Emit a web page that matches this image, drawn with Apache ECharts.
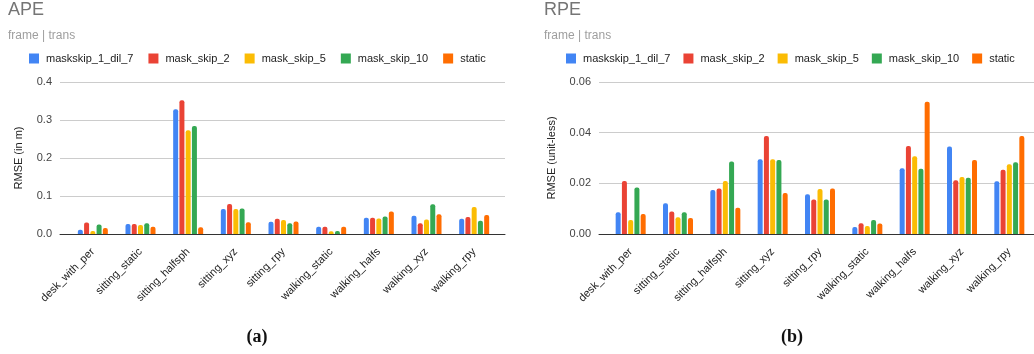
<!DOCTYPE html>
<html>
<head>
<meta charset="utf-8">
<script src="https://cdn.jsdelivr.net/npm/echarts@6/dist/echarts.min.js"></script>
<style>
  html, body { margin: 0; padding: 0; background: #fff; }
  #chart { width: 1034px; height: 354px; }
</style>
</head>
<body>
<div id="chart"></div>
<script>
// Sequences evaluated
const categories = ['desk_with_per', 'sitting_static', 'sitting_halfsph', 'sitting_xyz',
  'sitting_rpy', 'walking_static', 'walking_halfs', 'walking_xyz', 'walking_rpy'];

const seriesNames = ['maskskip_1_dil_7', 'mask_skip_2', 'mask_skip_5', 'mask_skip_10', 'static'];
const seriesColors = ['#4285F4', '#EA4335', '#FBBC04', '#34A853', '#FF6D01'];

// APE, translational RMSE in metres
const apeMaskskip1Dil7 = [0.011, 0.026, 0.328, 0.066, 0.032, 0.019, 0.043, 0.048, 0.040];
const apeMaskSkip2     = [0.030, 0.026, 0.352, 0.079, 0.040, 0.019, 0.043, 0.028, 0.045];
const apeMaskSkip5     = [0.008, 0.024, 0.273, 0.066, 0.037, 0.007, 0.041, 0.038, 0.071];
const apeMaskSkip10    = [0.025, 0.028, 0.284, 0.067, 0.028, 0.008, 0.046, 0.078, 0.035];
const apeStatic        = [0.016, 0.019, 0.018, 0.031, 0.033, 0.019, 0.059, 0.052, 0.050];

// RPE, translational RMSE (unit-less)
const rpeMaskskip1Dil7 = [0.0086, 0.0121, 0.0174, 0.0295, 0.0157, 0.0028, 0.0260, 0.0345, 0.0208];
const rpeMaskSkip2     = [0.0209, 0.0089, 0.0180, 0.0387, 0.0136, 0.0042, 0.0347, 0.0212, 0.0254];
const rpeMaskSkip5     = [0.0055, 0.0066, 0.0209, 0.0295, 0.0178, 0.0032, 0.0307, 0.0225, 0.0275];
const rpeMaskSkip10    = [0.0184, 0.0086, 0.0286, 0.0292, 0.0136, 0.0055, 0.0258, 0.0222, 0.0283];
const rpeStatic        = [0.0079, 0.0063, 0.0104, 0.0162, 0.0180, 0.0041, 0.0522, 0.0292, 0.0387];

// Y-axis tick values
const apeTicks = [0.0, 0.1, 0.2, 0.3, 0.4];
const rpeTicks = [0.00, 0.02, 0.04, 0.06];

const apeData = [apeMaskskip1Dil7, apeMaskSkip2, apeMaskSkip5, apeMaskSkip10, apeStatic];
const rpeData = [rpeMaskskip1Dil7, rpeMaskSkip2, rpeMaskSkip5, rpeMaskSkip10, rpeStatic];

const FONT = '"Liberation Sans", Arial, sans-serif';
const SERIF = '"Liberation Serif", "DejaVu Serif", serif';

// Each panel has a frame grid (gridlines, y labels, baseline) and an inset
// grid holding the category bands, so the baseline runs past the outer bars.
const PANELS = [
  { frame: { left: 60, top: 82, width: 445, height: 152 },
    inner: { left: 69, top: 82, width: 429, height: 152 },
    ticks: apeTicks, digits: 1, name: 'RMSE (in m)', nameGap: 36, data: apeData },
  { frame: { left: 599, top: 82, width: 435, height: 152 },
    inner: { left: 607, top: 82, width: 426, height: 152 },
    ticks: rpeTicks, digits: 2, name: 'RMSE (unit-less)', nameGap: 42, data: rpeData }
];

const grids = [], xAxes = [], yAxes = [], series = [];
PANELS.forEach((p, k) => {
  const fi = k * 2, ii = k * 2 + 1;
  const min = p.ticks[0], max = p.ticks[p.ticks.length - 1];
  const interval = p.ticks[1] - p.ticks[0];
  grids.push(p.frame, p.inner);

  xAxes.push({
    type: 'value', gridIndex: fi, min: 0, max: 1,
    axisLine: { show: true, lineStyle: { color: '#333', width: 1 } },
    axisTick: { show: false }, axisLabel: { show: false }, splitLine: { show: false }
  });
  xAxes.push({
    type: 'category', gridIndex: ii, data: categories,
    axisLine: { show: false }, axisTick: { show: false },
    axisLabel: { rotate: 45, fontSize: 11, color: '#222', fontFamily: FONT, margin: 16, interval: 0 }
  });

  yAxes.push({
    type: 'value', gridIndex: fi, min, max, interval,
    name: p.name, nameLocation: 'middle', nameGap: p.nameGap,
    nameTextStyle: { fontSize: 11, color: '#222', fontFamily: FONT },
    axisLine: { show: false }, axisTick: { show: false },
    axisLabel: { fontSize: 11, color: '#444', fontFamily: FONT, margin: 8,
      formatter: v => v.toFixed(p.digits) },
    splitLine: { lineStyle: { color: '#ccc', width: 1 } }
  });
  yAxes.push({ type: 'value', gridIndex: ii, min, max, interval, show: false });

  p.data.forEach((vals, i) => {
    series.push({
      name: seriesNames[i], type: 'bar', xAxisIndex: ii, yAxisIndex: ii,
      data: vals, barWidth: 5, barGap: '25%',
      itemStyle: { color: seriesColors[i], borderRadius: [2, 2, 0, 0] }
    });
  });
});

function legendAt(left, gap) {
  return {
    left, top: 48, width: 480, itemWidth: 10, itemHeight: 10, itemGap: gap,
    icon: 'rect', data: seriesNames,
    textStyle: { fontSize: 11, color: '#222', fontFamily: FONT, padding: [0, 0, 0, 2] }
  };
}

function titleAt(text, left) {
  return {
    text, subtext: 'frame | trans', left, top: 0, itemGap: 11, padding: [1, 5, 5, 5],
    textStyle: { fontSize: 18, fontWeight: 'normal', color: '#757575', fontFamily: FONT },
    subtextStyle: { fontSize: 12, color: '#9e9e9e', fontFamily: FONT }
  };
}

const chart = echarts.init(document.getElementById('chart'), null, { renderer: 'canvas' });
chart.setOption({
  animation: false,
  color: seriesColors,
  title: [titleAt('APE', 3), titleAt('RPE', 539)],
  legend: [legendAt(24, 15), legendAt(561, 13)],
  grid: grids,
  xAxis: xAxes,
  yAxis: yAxes,
  series,
  graphic: [
    { type: 'text', x: 257, y: 337,
      style: { text: '(a)', fontSize: 18, fontWeight: 'bold', fill: '#111', fontFamily: SERIF,
        align: 'center', verticalAlign: 'middle' } },
    { type: 'text', x: 792, y: 337,
      style: { text: '(b)', fontSize: 18, fontWeight: 'bold', fill: '#111', fontFamily: SERIF,
        align: 'center', verticalAlign: 'middle' } }
  ]
});
</script>
</body>
</html>
